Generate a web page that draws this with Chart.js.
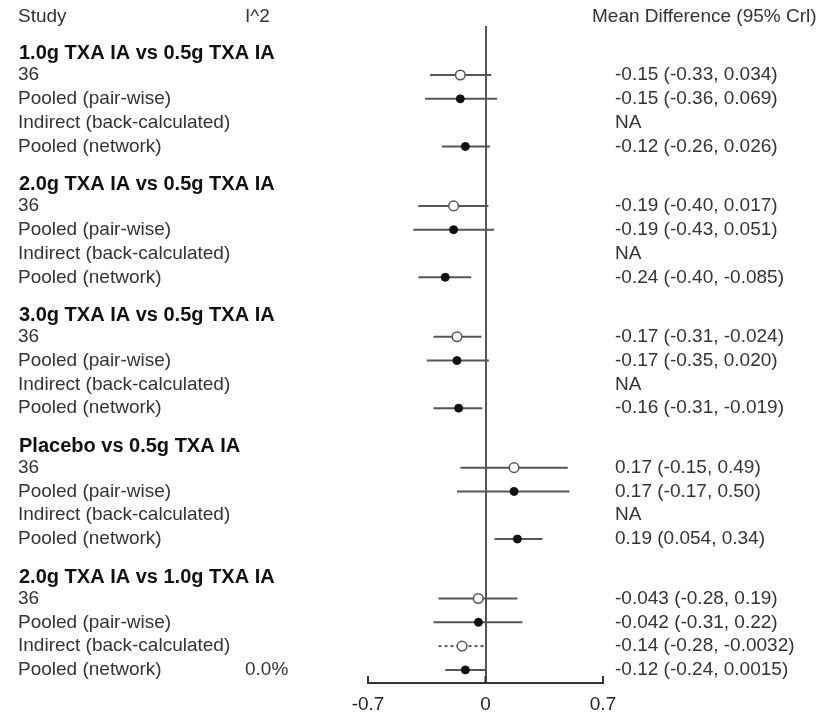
<!DOCTYPE html>
<html><head><meta charset="utf-8">
<script src="https://cdn.jsdelivr.net/npm/chart.js@4.4.1/dist/chart.umd.min.js"></script>
<style>html,body{margin:0;padding:0;background:#fff}#wrap{width:825px;height:720px;position:relative}</style>
</head><body><div id="wrap"><canvas id="c"></canvas></div>
<script>
// ---- data ----
const comparisons = [
  '1.0g TXA IA vs 0.5g TXA IA',
  '2.0g TXA IA vs 0.5g TXA IA',
  '3.0g TXA IA vs 0.5g TXA IA',
  'Placebo vs 0.5g TXA IA',
  '2.0g TXA IA vs 1.0g TXA IA'
];
const rowLabels = ['36', 'Pooled (pair-wise)', 'Indirect (back-calculated)', 'Pooled (network)'];
const rowKinds = ['study', 'pooled', 'indirect', 'pooled'];
const means = [
  [-0.15, -0.15, null, -0.12],
  [-0.19, -0.19, null, -0.24],
  [-0.17, -0.17, null, -0.16],
  [0.17, 0.17, null, 0.19],
  [-0.043, -0.042, -0.14, -0.12]
];
const lower = [
  [-0.33, -0.36, null, -0.26],
  [-0.40, -0.43, null, -0.40],
  [-0.31, -0.35, null, -0.31],
  [-0.15, -0.17, null, 0.054],
  [-0.28, -0.31, -0.28, -0.24]
];
const upper = [
  [0.034, 0.069, null, 0.026],
  [0.017, 0.051, null, -0.085],
  [-0.024, 0.020, null, -0.019],
  [0.49, 0.50, null, 0.34],
  [0.19, 0.22, -0.0032, 0.0015]
];
const i2Labels = [
  ['', '', '', ''],
  ['', '', '', ''],
  ['', '', '', ''],
  ['', '', '', ''],
  ['', '', '', '0.0%']
];
const xTicks = [-0.7, 0, 0.7];
const columnHeaders = ['Study', 'I^2', 'Mean Difference (95% Crl)'];

// ---- layout helpers ----
const GROUP_STEP = 5.5;
const rowPos = (g, r) => g * GROUP_STEP + r + 1;
const headerPos = g => g * GROUP_STEP + 0.1;
const COLHEAD_POS = -1.45;
const fmt = v => Number(v).toPrecision(2);

const ciSets = [];
const openPts = [];
const filledPts = [];
comparisons.forEach((c, g) => {
  rowLabels.forEach((lab, r) => {
    const m = means[g][r];
    if (m === null) return;
    const p = rowPos(g, r);
    ciSets.push({
      data: [{x: lower[g][r], y: p}, {x: upper[g][r], y: p}],
      showLine: true, borderColor: '#555', borderWidth: 2,
      borderDash: rowKinds[r] === 'indirect' ? [3, 3] : [],
      pointRadius: 0, order: 2
    });
    if (rowKinds[r] === 'pooled') filledPts.push({x: m, y: p});
    else openPts.push({x: m, y: p});
  });
});

const textPlugin = {
  id: 'forestText',
  afterDraw(chart) {
    const ctx = chart.ctx;
    const ys = chart.scales.y;
    const xs = chart.scales.x;
    ctx.save();
    // upward tick marks
    ctx.strokeStyle = '#333'; ctx.lineWidth = 2;
    xTicks.forEach(v => {
      const px = xs.getPixelForValue(v);
      ctx.beginPath(); ctx.moveTo(px, chart.chartArea.bottom); ctx.lineTo(px, chart.chartArea.bottom - 7); ctx.stroke();
    });
    ctx.textBaseline = 'middle';
    ctx.textAlign = 'left';
    const normal = '19px "Liberation Sans", Arial, sans-serif';
    const bold = 'bold 20px "Liberation Sans", Arial, sans-serif';
    ctx.fillStyle = '#333';
    ctx.font = normal;
    const hy = ys.getPixelForValue(COLHEAD_POS);
    ctx.fillText(columnHeaders[0], 18, hy);
    ctx.fillText(columnHeaders[1], 245, hy);
    ctx.fillText(columnHeaders[2], 592, hy);
    comparisons.forEach((c, g) => {
      ctx.font = bold; ctx.fillStyle = '#111';
      ctx.fillText(c, 19, ys.getPixelForValue(headerPos(g)));
      ctx.font = normal; ctx.fillStyle = '#333';
      rowLabels.forEach((lab, r) => {
        const y = ys.getPixelForValue(rowPos(g, r));
        ctx.fillText(lab, 18, y);
        if (i2Labels[g][r]) ctx.fillText(i2Labels[g][r], 245, y);
        const m = means[g][r];
        const txt = m === null ? 'NA' : fmt(m) + ' (' + fmt(lower[g][r]) + ', ' + fmt(upper[g][r]) + ')';
        ctx.fillText(txt, 615, y);
      });
    });
    ctx.restore();
  }
};

new Chart(document.getElementById('c'), {
  type: 'scatter',
  data: {
    datasets: [
      {data: openPts, pointStyle: 'circle', pointRadius: 4.8, backgroundColor: '#fff', borderColor: '#555', borderWidth: 1.5, order: 0},
      {data: filledPts, pointStyle: 'circle', pointRadius: 4, backgroundColor: '#111', borderColor: '#111', borderWidth: 1, order: 0},
      ...ciSets
    ]
  },
  options: {
    responsive: true, maintainAspectRatio: false, animation: false,
    layout: {padding: {left: 368, right: 222, top: 26, bottom: 4}},
    plugins: {legend: {display: false}, tooltip: {enabled: false}},
    scales: {
      x: {
        type: 'linear', min: -0.7, max: 0.7,
        afterBuildTicks: s => { s.ticks = xTicks.map(v => ({value: v})); },
        afterFit: s => { s.height = 33; },
        ticks: {color: '#222', font: {size: 19, family: '"Liberation Sans", Arial, sans-serif'}, padding: 10,
          callback: v => (v === 0 ? '0' : String(v))},
        grid: {drawOnChartArea: true, drawTicks: false, lineWidth: 2,
          color: c => (c.tick && c.tick.value === 0 ? '#555' : 'rgba(0,0,0,0)')},
        border: {display: true, color: '#333', width: 2}
      },
      y: {type: 'linear', reverse: true, min: -1.06, max: 26.55, display: false}
    }
  },
  plugins: [textPlugin]
});
</script>
</body></html>
